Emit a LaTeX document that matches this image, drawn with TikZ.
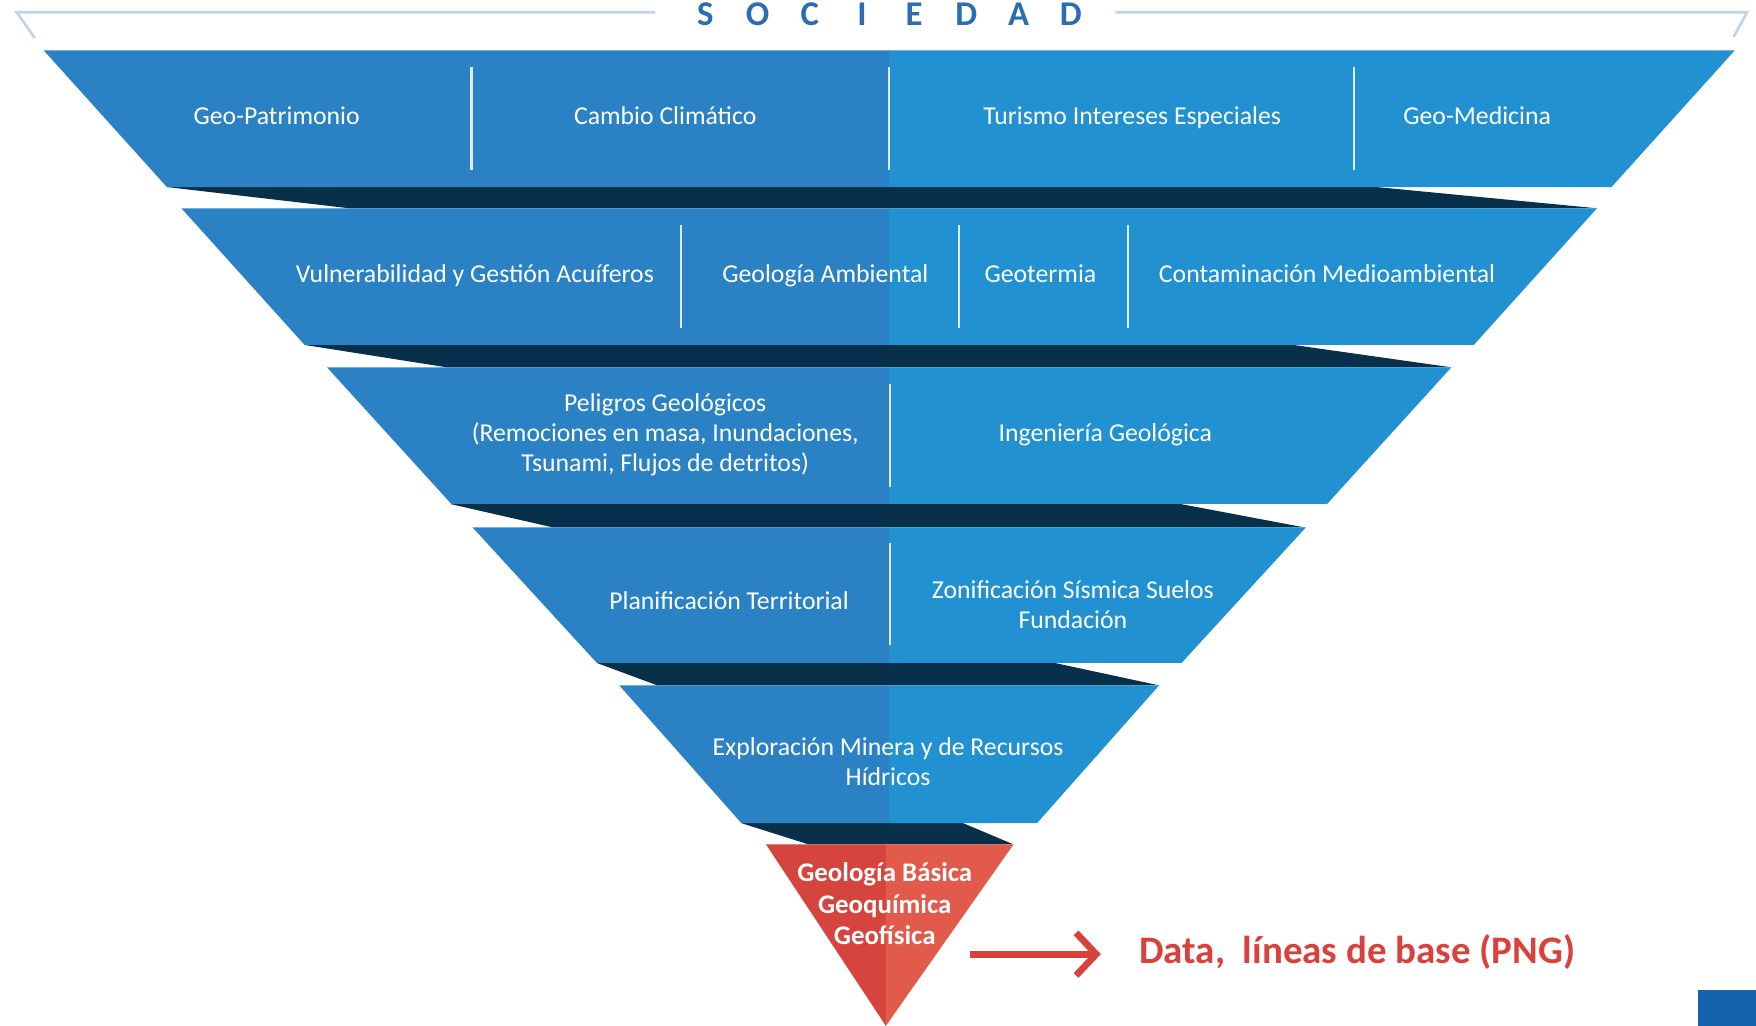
\documentclass[tikz,border=0pt]{standalone}
\usepackage{fontspec}
\setmainfont{Carlito}
\usetikzlibrary{arrows.meta}

\definecolor{bandL}{HTML}{2A82C4}
\definecolor{bandR}{HTML}{2191D1}
\definecolor{fold}{HTML}{08304A}
\definecolor{redL}{HTML}{D6453D}
\definecolor{redR}{HTML}{E15A4A}
\definecolor{redtxt}{HTML}{D9423C}
\definecolor{framec}{HTML}{C2D5E8}
\definecolor{titlec}{HTML}{2B6DB2}
\definecolor{cornerc}{HTML}{1463AF}

% one level of the funnel: top y, bottom y, half width at top, half width at bottom
\newcommand\drawband[4]{%
  \fill[bandL] ({794-#3},#1) -- (794,#1) -- (794,#2) -- ({794-#4},#2) -- cycle;
  \fill[bandR] (794,#1) -- ({794+#3},#1) -- ({794+#4},#2) -- (794,#2) -- cycle;
}
% dark fold under a level: y of fold top, y of fold bottom, x1, x2 (top), x3, x4 (bottom)
\newcommand\drawfold[6]{%
  \fill[fold] (#3,#1) -- (#4,#1) -- (#6,#2) -- (#5,#2) -- cycle;
}
\newcommand\spaced[1]{\makebox[23.3pt]{#1}}

\tikzset{
  lbl/.style={text=white, font=\fontsize{11.5}{13.5}\selectfont, align=center, inner sep=0pt},
  lbl1/.style={lbl, anchor=base},
  redlbl/.style={text=white, font=\bfseries\fontsize{12}{14}\selectfont, align=center, inner sep=0pt},
  divider/.style={draw=white!85!bandL, line width=1pt},
  framel/.style={draw=framec, line width=1.2pt},
  dataarrow/.style={draw=redtxt, line width=3pt, -{Straight Barb[length=9pt,width=19pt]}, shorten >=17pt}
}

\begin{document}
\begin{tikzpicture}[x=0.5pt,y=-0.5pt]
\useasboundingbox (0,0) rectangle (1568,916);

% header frame and title
\draw[framel] (31,34) -- (15,11) -- (585,11);
\draw[framel] (996,11) -- (1560,11) -- (1548,33);
\node[inner sep=0pt, text=titlec, font=\bfseries\fontsize{15.5}{15.5}\selectfont] (soc) at (793,13)
  {\spaced{S}\spaced{O}\spaced{C}\spaced{I}\spaced{E}\spaced{D}\spaced{A}\spaced{D}};

% folds between levels
\drawfold{167}{186}{149}{1229}{312}{1426}
\drawfold{308}{328}{272}{1155}{399}{1296}
\drawfold{450}{471}{402}{1054}{494}{1165}
\drawfold{592}{612}{533}{942}{587}{1035}
\drawfold{735}{754}{662}{860}{722}{905}

% levels
\drawband{45}{167}{755}{645}
\drawband{186}{308}{632}{522}
\drawband{328}{450}{502}{391}
\drawband{471}{592}{372}{261}
\drawband{612}{735}{241}{132}

% base triangle
\fill[redL] (684,754) -- (791,754) -- (791,916) -- cycle;
\fill[redR] (791,754) -- (905,754) -- (791,916) -- cycle;

% dividers
\foreach \x in {421,794,1209} \draw[divider] (\x,60) -- (\x,152);
\foreach \x in {608,856,1007} \draw[divider] (\x,201) -- (\x,293);
\draw[divider] (795,343) -- (795,435);
\draw[divider] (795,485) -- (795,576);

% level 1
\node[lbl1] (geopat) at (247,111) {Geo-Patrimonio};
\node[lbl1] (cambio) at (594,111) {Cambio Climático};
\node[lbl1] (turismo) at (1011,111) {Turismo Intereses Especiales};
\node[lbl1] (geomed) at (1319,111) {Geo-Medicina};
% level 2
\node[lbl1] (vulner) at (424,252) {Vulnerabilidad y Gestión Acuíferos};
\node[lbl1] (geoamb) at (737,252) {Geología Ambiental};
\node[lbl1] (geoter) at (929,252) {Geotermia};
\node[lbl1] (contam) at (1185,252) {Contaminación Medioambiental};
% level 3
\node[lbl] (peligros) at (594,388) {Peligros Geológicos\\(Remociones en masa, Inundaciones,\\Tsunami, Flujos de detritos)};
\node[lbl1] (ingen) at (987,394) {Ingeniería Geológica};
% level 4
\node[lbl1] (planif) at (651,544) {Planificación Territorial};
\node[lbl] (zonif) at (958,540) {Zonificación Sísmica Suelos\\Fundación};
% level 5
\node[lbl] (explor) at (793,680) {Exploración Minera y de Recursos\\Hídricos};
% base
\node[redlbl] (basica) at (790,807) {Geología Básica\\Geoquímica\\Geofísica};

% output
\node[inner sep=0pt, anchor=west, text=redtxt, font=\bfseries\fontsize{17.4}{17.4}\selectfont] (data) at (1017,850)
  {Data,~ líneas de base (PNG)};
\coordinate (arrS) at (866,852);
\draw[dataarrow] (arrS) -- (arrS -| data.west);

% corner mark
\fill[cornerc] (1516,884) rectangle (1568,916);
\end{tikzpicture}
\end{document}
